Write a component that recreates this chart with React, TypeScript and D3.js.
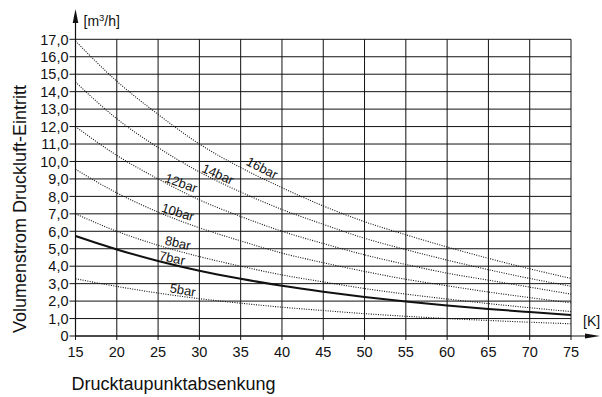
import React from "react";
import * as d3 from "d3";

const xTicks = [15, 20, 25, 30, 35, 40, 45, 50, 55, 60, 65, 70, 75];
const yTicks = [0, 1, 2, 3, 4, 5, 6, 7, 8, 9, 10, 11, 12, 13, 14, 15, 16, 17];
const yTickLabels = ["0", "1,0", "2,0", "3,0", "4,0", "5,0", "6,0", "7,0", "8,0", "9,0", "10,0", "11,0", "12,0", "13,0", "14,0", "15,0", "16,0", "17,0"];

const bar16 = [16.9, 14.6, 12.7, 11.0, 9.65, 8.5, 7.45, 6.55, 5.8, 5.1, 4.45, 3.85, 3.3];
const bar14 = [14.55, 12.45, 10.8, 9.4, 8.25, 7.25, 6.4, 5.6, 4.95, 4.35, 3.8, 3.3, 2.85];
const bar12 = [12.0, 10.35, 9.0, 7.8, 6.85, 6.0, 5.3, 4.65, 4.1, 3.6, 3.2, 2.8, 2.4];
const bar10 = [9.55, 8.2, 7.1, 6.2, 5.45, 4.75, 4.2, 3.7, 3.25, 2.88, 2.52, 2.2, 1.9];
const bar8 = [7.0, 6.0, 5.2, 4.55, 4.0, 3.5, 3.1, 2.72, 2.4, 2.12, 1.86, 1.62, 1.4];
const bar7 = [5.73, 4.96, 4.3, 3.74, 3.28, 2.88, 2.54, 2.24, 1.98, 1.75, 1.55, 1.37, 1.2];
const bar5 = [3.28, 2.84, 2.46, 2.14, 1.88, 1.65, 1.46, 1.28, 1.13, 1.0, 0.89, 0.79, 0.7];

const seriesNames = ["16bar", "14bar", "12bar", "10bar", "8bar", "7bar", "5bar"];
const seriesValues = [bar16, bar14, bar12, bar10, bar8, bar7, bar5];
// label anchors in data units: [x (K), y (m3/h), rotation deg]
const labelX = [37.6, 32.25, 27.8, 27.4, 27.4, 26.7, 28.0];
const labelY = [9.63, 9.28, 8.77, 7.1, 5.33, 4.47, 2.64];
const labelRot = [27, 24, 20, 17, 13, 12, 10];

const FONT = "'Liberation Sans', Arial, Helvetica, sans-serif";

export default function App() {
  const W = 602, H = 397;
  const x = d3.scaleLinear().domain([15, 75]).range([75.5, 571]);
  const y = d3.scaleLinear().domain([0, 17]).range([336, 39.3]);
  const line = d3
    .line<number>()
    .x((_, i) => x(xTicks[i]))
    .y((d) => y(d))
    .curve(d3.curveMonotoneX);

  const x0 = x(15), x1 = x(75), y0 = y(0), y1 = y(17);

  return (
    <svg width={W} height={H} style={{ position: "absolute", left: 0, top: 0, background: "#fff" }} fontFamily={FONT}>
      <rect x={0} y={0} width={W} height={H} fill="#fff" />
      {/* grid */}
      {yTicks.map((t) => (
        <line key={"h" + t} x1={x0} x2={x1} y1={y(t)} y2={y(t)} stroke="#111" strokeWidth={1} />
      ))}
      {xTicks.map((t) => (
        <line key={"v" + t} x1={x(t)} x2={x(t)} y1={y1} y2={y0 + 4} stroke="#111" strokeWidth={1} />
      ))}
      {/* y ticks */}
      {yTicks.map((t, i) => (
        <g key={"yt" + t}>
          <line x1={x0 - 6} x2={x0} y1={y(t)} y2={y(t)} stroke="#111" strokeWidth={1} />
          <text x={x0 - 7} y={y(t)} dy="0.36em" textAnchor="end" fontSize={14.5} fill="#111">
            {yTickLabels[i]}
          </text>
        </g>
      ))}
      {/* x tick labels */}
      {xTicks.map((t) => (
        <text key={"xt" + t} x={x(t)} y={357} textAnchor="middle" fontSize={14.5} fill="#111">
          {t}
        </text>
      ))}
      {/* axes with arrows */}
      <line x1={x0} x2={x0} y1={y0} y2={14} stroke="#111" strokeWidth={1.2} />
      <path d={`M${x0},9 L${x0 - 2.8},23 L${x0 + 2.8},23 Z`} fill="#111" />
      <line x1={x0} x2={590} y1={y0} y2={y0} stroke="#111" strokeWidth={1.2} />
      <path d={`M600,${y0} L585,${y0 - 2.6} L585,${y0 + 2.6} Z`} fill="#111" />
      {/* unit labels */}
      <text x={83.5} y={26} fontSize={14} fill="#111">
        [m<tspan dy={-5} fontSize={9.5}>3</tspan>
        <tspan dy={5}>/h]</tspan>
      </text>
      <text x={583} y={326} fontSize={14} fill="#111">[K]</text>
      {/* curves */}
      {seriesValues.map((vals, i) => (
        <path
          key={seriesNames[i]}
          d={line(vals) || ""}
          fill="none"
          stroke="#111"
          strokeWidth={seriesNames[i] === "7bar" ? 2 : 1.1}
          strokeDasharray={seriesNames[i] === "7bar" ? undefined : "1 1.4"}
        />
      ))}
      {/* curve labels */}
      {seriesNames.map((n, i) => (
        <text
          key={"l" + n}
          transform={`translate(${x(labelX[i])},${y(labelY[i])}) rotate(${labelRot[i]})`}
          textAnchor="middle"
          dy="0.35em"
          fontSize={13}
          fill="#111"
        >
          {n}
        </text>
      ))}
      {/* axis titles */}
      <text transform="translate(26,333) rotate(-90)" fontSize={18} fill="#111">
        Volumenstrom Druckluft-Eintritt
      </text>
      <text x={71.5} y={390} fontSize={18} fill="#111">
        Drucktaupunktabsenkung
      </text>
    </svg>
  );
}
